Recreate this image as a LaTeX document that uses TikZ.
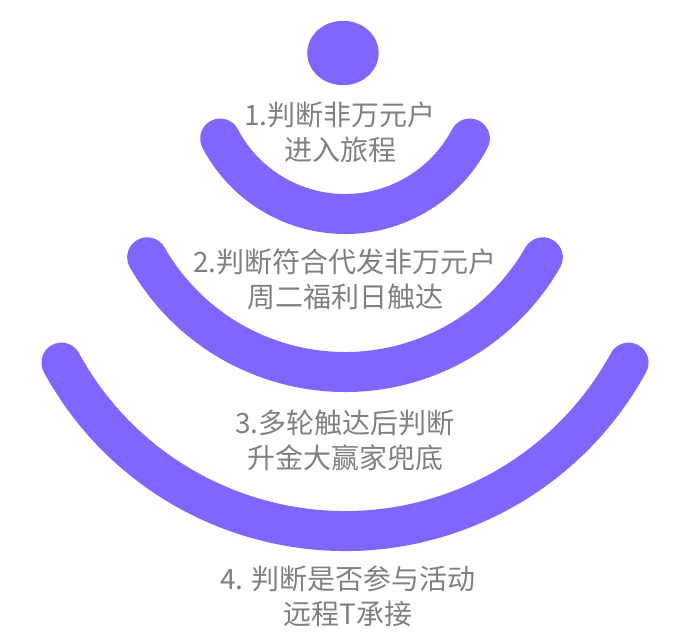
\documentclass[tikz,border=0pt]{standalone}
\usepackage{fontspec}
\setmainfont{Noto Sans CJK SC}
\usepackage{tikz}
\usetikzlibrary{positioning}
\definecolor{bandpurple}{RGB}{128,102,255}
\definecolor{textgray}{RGB}{128,128,128}

\begin{document}
\begin{tikzpicture}[
    x = 1pt, y = -1pt,
    band/.style = {draw = bandpurple, line width = 40pt, line cap = round},
    caption/.style = {
      text = textgray, align = center, inner sep = 0pt,
      font = \fontsize{28pt}{35pt}\selectfont,
    },
  ]
  \useasboundingbox (0,0) rectangle (679,642);

  % top dot
  \fill [bandpurple] (343,53) ellipse [x radius = 35.7, y radius = 32.2];

  % the three bands
  \begin{scope}
    \draw [band] (345,73) ++(152.3:141) arc [start angle = 152.3, end angle = 27.7, radius = 141];
    \draw [band] (345,144) ++(150.2:228) arc [start angle = 150.2, end angle = 29.8, radius = 228];
    \draw [band] (345,208) ++(151.4:323) arc [start angle = 151.4, end angle = 28.6, radius = 323];
  \end{scope}

  % captions
  \node (t1) [caption] at (340,132) {1.判断非万元户\\进入旅程};
  \node (t2) [caption] at (345,279) {2.判断符合代发非万元户\\周二福利日触达};
  \node (t3) [caption] at (345,440) {3.多轮触达后判断\\升金大赢家兜底};
  \node (t4) [caption] at (348,596) {4. 判断是否参与活动\\远程T承接};

\end{tikzpicture}
\end{document}
